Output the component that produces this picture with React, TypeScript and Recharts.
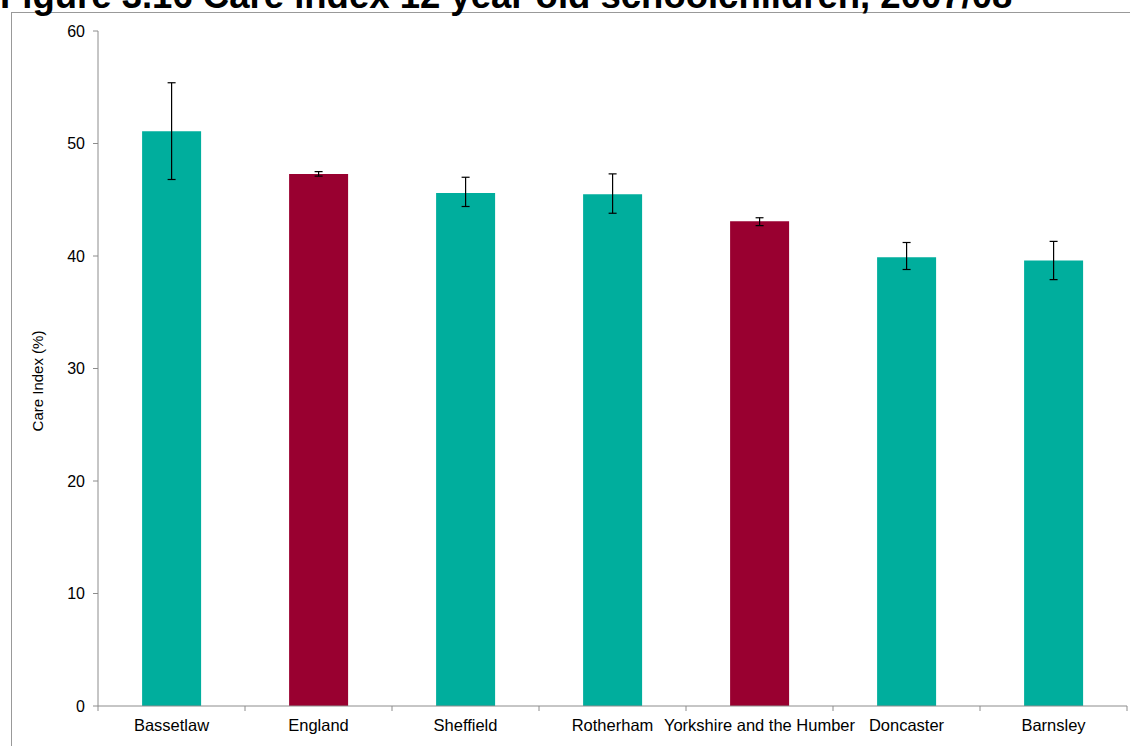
import React from 'react';
import { BarChart, Bar, XAxis, YAxis, ErrorBar, Cell } from 'recharts';

const categories = ['Bassetlaw', 'England', 'Sheffield', 'Rotherham', 'Yorkshire and the Humber', 'Doncaster', 'Barnsley'];
const careIndex = [51.1, 47.3, 45.6, 45.5, 43.1, 39.9, 39.6];
const lowerCI = [46.8, 47.1, 44.4, 43.8, 42.7, 38.8, 37.9];
const upperCI = [55.4, 47.5, 47.0, 47.3, 43.4, 41.2, 41.3];
const isComparator = [false, true, false, false, true, false, false];
const yTicks = [0, 10, 20, 30, 40, 50, 60];

const TITLE = 'Figure 3.16 Care index 12 year old schoolchildren, 2007/08';
const Y_LABEL = 'Care Index (%)';

const TEAL = '#00AE9D';
const MAROON = '#990030';
const AXIS = '#8c8c8c';
const FONT = "Arial, 'Liberation Sans', sans-serif";

const data = categories.map((name, i) => ({
  name,
  value: careIndex[i],
  err: [careIndex[i] - lowerCI[i], upperCI[i] - careIndex[i]],
}));

const XTick = (props: any) => {
  const { x, y, payload, index } = props;
  const half = payload && typeof payload.offset === 'number' && payload.offset > 0 ? payload.offset : 73.5;
  const isLast = index === categories.length - 1;
  return (
    <g>
      <line x1={x - half} y1={y} x2={x - half} y2={y + 5} stroke={AXIS} strokeWidth={1} />
      {isLast && <line x1={x + half} y1={y} x2={x + half} y2={y + 5} stroke={AXIS} strokeWidth={1} />}
      <text x={x} y={y + 25} textAnchor="middle" fontSize={16.5} fill="#000" fontFamily={FONT}>
        {payload.value}
      </text>
    </g>
  );
};

export default function App() {
  return (
    <div style={{ position: 'absolute', left: 0, top: 0, width: 1130, height: 746, overflow: 'hidden', background: '#fff' }}>
      <div style={{ position: 'absolute', left: 11, top: 12, width: 1300, height: 900, border: '1px solid #999', boxSizing: 'border-box' }} />
      <div style={{ position: 'absolute', left: 0, top: 0 }}>
        <BarChart width={1130} height={746} data={data} margin={{ top: 31, right: 3, bottom: 0, left: 38 }} barCategoryGap="30%">
          <XAxis
            dataKey="name"
            height={40}
            axisLine={{ stroke: AXIS }}
            tickLine={false}
            tickSize={0}
            tickMargin={0}
            interval={0}
            tick={<XTick />}
          />
          <YAxis
            width={60}
            domain={[0, 60]}
            ticks={yTicks}
            interval={0}
            axisLine={{ stroke: AXIS }}
            tickLine={{ stroke: AXIS }}
            tickSize={5}
            tickMargin={8}
            tick={{ fontSize: 16, fill: '#000', fontFamily: FONT }}
          />
          <Bar dataKey="value" isAnimationActive={false}>
            {data.map((d, i) => (
              <Cell key={d.name} fill={isComparator[i] ? MAROON : TEAL} />
            ))}
            <ErrorBar dataKey="err" width={4} stroke="#000" strokeWidth={1.2} direction="y" isAnimationActive={false} />
          </Bar>
        </BarChart>
      </div>
      <svg width={1130} height={746} style={{ position: 'absolute', left: 0, top: 0, pointerEvents: 'none' }}>
        <text x={0} y={8} fontSize={36.5} fontWeight="bold" fill="#000" fontFamily={FONT}>
          {TITLE}
        </text>
        <text x={43} y={381} fontSize={15} fill="#000" fontFamily={FONT} textAnchor="middle" transform="rotate(-90 43 381)">
          {Y_LABEL}
        </text>
      </svg>
    </div>
  );
}
